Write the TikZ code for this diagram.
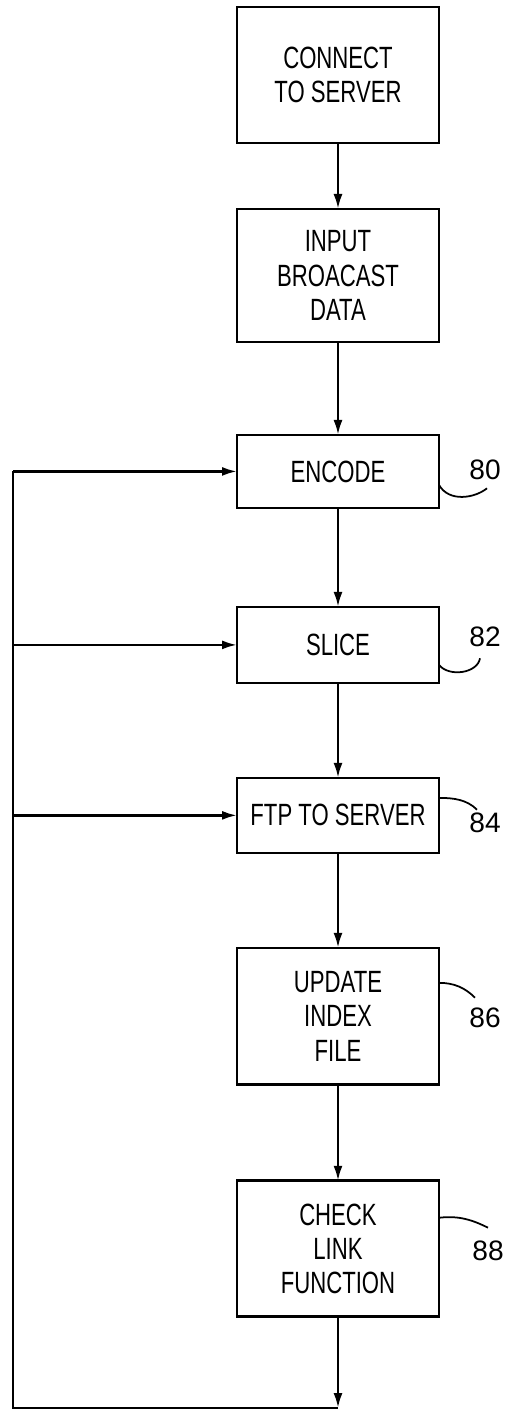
\documentclass[tikz,border=0pt]{standalone}
\usepackage{fontspec}
\setmainfont[FakeStretch=0.72]{Liberation Sans}
\newfontfamily\numfont{Liberation Sans}
\usetikzlibrary{positioning,arrows.meta}
\tikzset{
  >={Latex[length=3mm,width=1.8mm]},
  bx/.style={draw, line width=1.5pt, outer sep=0pt, minimum width=4.04cm, minimum height=#1, align=center, inner sep=0pt, font=\fontsize{17.5}{19.5}\selectfont},
  num/.style={inner sep=0pt, font=\numfont\fontsize{16}{16}\selectfont},
  ln/.style={line width=1.4pt},
  ld/.style={line width=1pt}
}

\begin{document}
\begin{tikzpicture}[x=0.02cm, y=-0.02cm]
  \useasboundingbox (0,0) rectangle (506,1410);
  % steps
  \node[bx=2.72cm] (con) at (338,75) {CONNECT\\TO SERVER};
  \node[bx=2.66cm, below=1.32cm of con] (inp) {INPUT\\BROACAST\\DATA};
  \node[bx=1.46cm, below=1.86cm of inp] (enc) {ENCODE};
  \node[bx=1.52cm, below=1.98cm of enc] (sli) {SLICE};
  \node[bx=1.5cm, below=1.9cm of sli] (ftp) {FTP TO SERVER};
  \node[bx=2.74cm, below=1.9cm of ftp] (upd) {UPDATE\\INDEX\\FILE};
  \node[bx=2.72cm, below=1.92cm of upd] (chk) {CHECK\\LINK\\FUNCTION};
  \foreach \a/\b in {con/inp, inp/enc, enc/sli, sli/ftp, ftp/upd, upd/chk}
    \draw[ln,->] (\a) -- (\b);
  % loop back
  \coordinate (bl) at (13,1408);
  \draw[ln,->] (chk.south) -- (chk.south |- bl);
  \draw[ln] (chk.south |- bl) -- (bl) -- (bl |- enc.west);
  \foreach \n in {enc, sli, ftp}
    \draw[ln,->] (bl |- \n.west) -- (\n.west);
  % reference numbers
  \node[num] (n80) at (485,470) {80};
  \node[num] (n82) at (485,637) {82};
  \node[num] (n84) at (485,823) {84};
  \node[num] (n86) at (485,1018) {86};
  \node[num] (n88) at (488,1251) {88};
  \draw[ld] ([yshift=-0.27cm]enc.east) .. controls +(0.2cm,-0.35cm) and +(-0.25cm,-0.2cm) .. ([shift={(0.04cm,-0.16cm)}]n80.south);
  \draw[ld] ([yshift=-0.4cm]sli.east) .. controls +(0.2cm,-0.25cm) and +(-0.05cm,-0.3cm) .. ([shift={(-0.1cm,-0.22cm)}]n82.south);
  \draw[ld] ([yshift=0.35cm]ftp.east) .. controls +(0.3cm,0cm) and +(-0.2cm,0.2cm) .. ([shift={(-0.16cm,0.06cm)}]n84.north);
  \draw[ld] ([yshift=0.67cm]upd.east) .. controls +(0.3cm,0cm) and +(-0.2cm,0.2cm) .. ([shift={(-0.2cm,0.2cm)}]n86.north);
  \draw[ld] ([yshift=0.62cm]chk.east) .. controls +(0.4cm,0.05cm) and +(-0.3cm,0.15cm) .. ([shift={(0cm,0.26cm)}]n88.north);
\end{tikzpicture}
\end{document}
